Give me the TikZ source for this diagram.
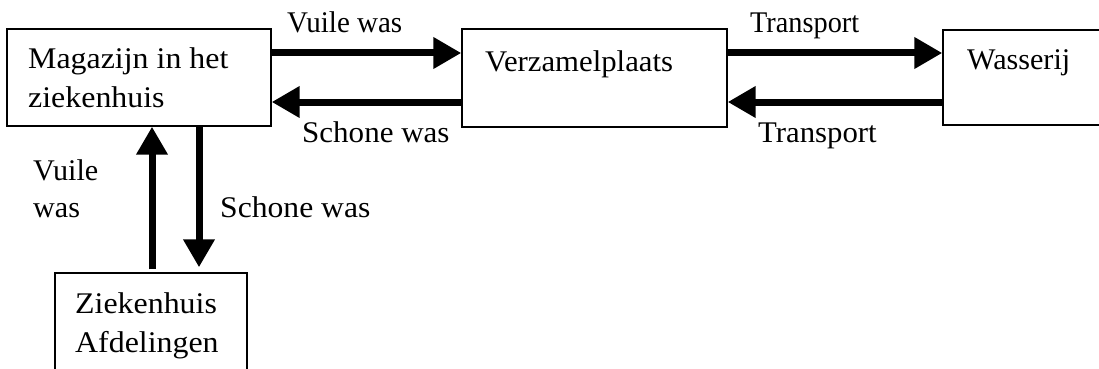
\documentclass[tikz,border=0pt]{standalone}
\usepackage{fontspec}
\setmainfont{Liberation Serif}
\usetikzlibrary{arrows.meta}

\tikzset{
  box/.style={draw, line width=1.4pt, rectangle, inner sep=0pt, minimum width=#1},
  lbl/.style={anchor=base west, inner sep=0pt, transform shape, xscale=#1,
              font=\fontsize{30}{36}\selectfont},
  lbl/.default=1,
  flow/.style={line width=7pt, -{Triangle[length=28pt,width=30pt]}},
}

\begin{document}
\begin{tikzpicture}[x=1pt, y=-1pt]
  \useasboundingbox (0,0) rectangle (1099,369);

  % boxes (the laundry box runs past the right edge, the wards box past the bottom)
  \node[box=264pt, minimum height=97pt]  (mag)  at (139,77.5) {};
  \node[box=265pt, minimum height=98pt]  (verz) at (594.5,78)  {};
  \node[box=175pt, minimum height=95pt]  (was)  at (1030.5,77.5) {};
  \node[box=192pt, minimum height=130pt] (afd)  at (151,338) {};

  % box texts
  \node[lbl=1.063] (t1a) at (28,68)   {Magazijn in het};
  \node[lbl=1.063] (t1b) at (28,107)  {ziekenhuis};
  \node[lbl=1.025] (t2)  at (485,71)  {Verzamelplaats};
  \node[lbl=1.005] (t3)  at (967,70)  {Wasserij};
  \node[lbl=1.063] (t4a) at (75,313)  {Ziekenhuis};
  \node[lbl=1.063] (t4b) at (75,352)  {Afdelingen};

  % rows and columns of the connectors
  \coordinate (rowA) at (0,53);
  \coordinate (rowB) at (0,102);
  \coordinate (colA) at (152,0);
  \coordinate (colB) at (199,0);

  % connectors
  \draw[flow] (mag.east |- rowA) -- (verz.west |- rowA);
  \draw[flow] (verz.west |- rowB) -- (mag.east |- rowB);
  \draw[flow] (verz.east |- rowA) -- (was.west |- rowA);
  \draw[flow] (was.west |- rowB) -- (verz.east |- rowB);
  \draw[flow, shorten <=3pt] (afd.north -| colA) -- (mag.south -| colA);
  \draw[flow, shorten >=5pt] (mag.south -| colB) -- (afd.north -| colB);

  % connector labels
  \node[lbl=0.967] (l1)  at (287,33)  {Vuile was};
  \node[lbl=1.034] (l2)  at (302,142) {Schone was};
  \node[lbl=0.943] (l3)  at (750,33)  {Transport};
  \node[lbl=1.025] (l4)  at (758,142) {Transport};
  \node[lbl=1.005] (l5a) at (33,180)  {Vuile};
  \node[lbl=1.005] (l5b) at (33,217)  {was};
  \node[lbl=1.054] (l6)  at (220,217) {Schone was};
\end{tikzpicture}
\end{document}
